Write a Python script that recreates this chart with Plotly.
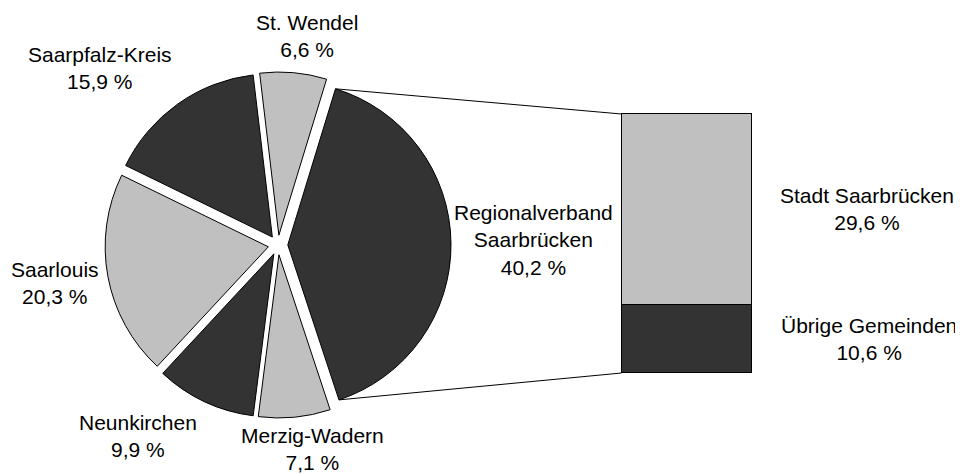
import math
import plotly.graph_objects as go

# ---- data ----
pie_labels = ["Regionalverband<br>Saarbrücken", "Merzig-Wadern", "Neunkirchen",
              "Saarlouis", "Saarpfalz-Kreis", "St. Wendel"]
pie_values = [40.2, 7.1, 9.9, 20.3, 15.9, 6.6]
pie_colors = ["#333333", "#c0c0c0", "#333333", "#c0c0c0", "#333333", "#c0c0c0"]

bar_labels = ["Übrige Gemeinden", "Stadt Saarbrücken"]
bar_values = [10.6, 29.6]
bar_colors = ["#333333", "#c0c0c0"]

# page has an 8px body margin: figure drawn 8px in from the window corner
OFF = 8
W, H = 963 - OFF, 474 - OFF
FONT = dict(family="Liberation Sans, Arial, sans-serif", size=21, color="#000000")

def fmt(v):
    return f"{v:.1f}".replace(".", ",") + " %"

def fx(px):
    return (px - OFF) / W

def fy(py):
    return 1 - (py - OFF) / H

# ---- layout geometry (window pixels) ----
pie_dx = [fx(105), fx(451)]
pie_dy = [fy(418), fy(72)]
pull = 0.06
rotation = 17

# bar placement (window pixels) plus padding so outlines are not clipped
bx0, bx1, by0, by1 = 621.5, 751.0, 373.0, 114.0
PAD = 4
bar_dx = [fx(bx0 - PAD), fx(bx1 + PAD)]
bar_dy = [fy(by0 + PAD), fy(by1 - PAD)]
total = sum(pie_values)
ytop = pie_values[0]
xpad = PAD / (bx1 - bx0)
ypad = PAD * ytop / (by0 - by1)

fig = go.Figure()
fig.add_trace(go.Pie(
    labels=pie_labels, values=pie_values, sort=False, direction="clockwise",
    rotation=rotation, pull=[pull] * len(pie_values),
    marker=dict(colors=pie_colors, line=dict(color="#000000", width=1)),
    textinfo="none", hoverinfo="skip", showlegend=False,
    domain=dict(x=pie_dx, y=pie_dy),
))

for lab, val, col in zip(bar_labels, bar_values, bar_colors):
    fig.add_trace(go.Bar(
        x=[0], y=[val], width=[1], name=lab,
        marker=dict(color=col, line=dict(color="#000000", width=1)),
        hoverinfo="skip", showlegend=False,
    ))

# ---- connector lines computed from pie geometry ----
cx = W * (pie_dx[0] + pie_dx[1]) / 2
cy = H * (1 - (pie_dy[0] + pie_dy[1]) / 2)
r = min(W * (pie_dx[1] - pie_dx[0]), H * (pie_dy[1] - pie_dy[0])) / (2 * (1 + pull))
a0 = math.radians(rotation)
a1 = a0 + 2 * math.pi * pie_values[0] / total
am = (a0 + a1) / 2
px_off = pull * r * math.sin(am)
py_off = -pull * r * math.cos(am)

def pt(a):
    x = cx + px_off + r * math.sin(a)
    y = cy + py_off - r * math.cos(a)
    return x / W, 1 - y / H

p_top = pt(a0)
p_bot = pt(a1)
shapes = [
    dict(type="line", xref="paper", yref="paper", x0=p_top[0], y0=p_top[1],
         x1=fx(bx0), y1=fy(by1), line=dict(color="#000000", width=1)),
    dict(type="line", xref="paper", yref="paper", x0=p_bot[0], y0=p_bot[1],
         x1=fx(bx0), y1=fy(by0), line=dict(color="#000000", width=1)),
]

# ---- labels (window pixels) ----
label_pos = {
    "Regionalverband<br>Saarbrücken": (533, 240),
    "Merzig-Wadern": (312, 449),
    "Neunkirchen": (138, 436),
    "Saarlouis": (55, 283),
    "Saarpfalz-Kreis": (100, 68),
    "St. Wendel": (307, 36),
    "Übrige Gemeinden": (869, 339),
    "Stadt Saarbrücken": (867, 209),
}
annotations = []
for lab, val in list(zip(pie_labels, pie_values)) + list(zip(bar_labels, bar_values)):
    x, y = label_pos[lab]
    annotations.append(dict(
        x=fx(x), y=fy(y), xref="paper", yref="paper",
        text=f"{lab}<br>{fmt(val)}", showarrow=False, align="center",
        xanchor="center", yanchor="middle", font=FONT,
    ))

fig.update_layout(
    width=W, height=H, margin=dict(l=0, r=0, t=0, b=0),
    paper_bgcolor="#ffffff", plot_bgcolor="rgba(0,0,0,0)",
    barmode="stack", bargap=0,
    xaxis=dict(domain=bar_dx, range=[-0.5 - xpad, 0.5 + xpad], visible=False, fixedrange=True),
    yaxis=dict(domain=bar_dy, range=[-ypad, ytop + ypad], visible=False, fixedrange=True),
    shapes=shapes, annotations=annotations, font=FONT,
)

fig.write_html("out.html")
